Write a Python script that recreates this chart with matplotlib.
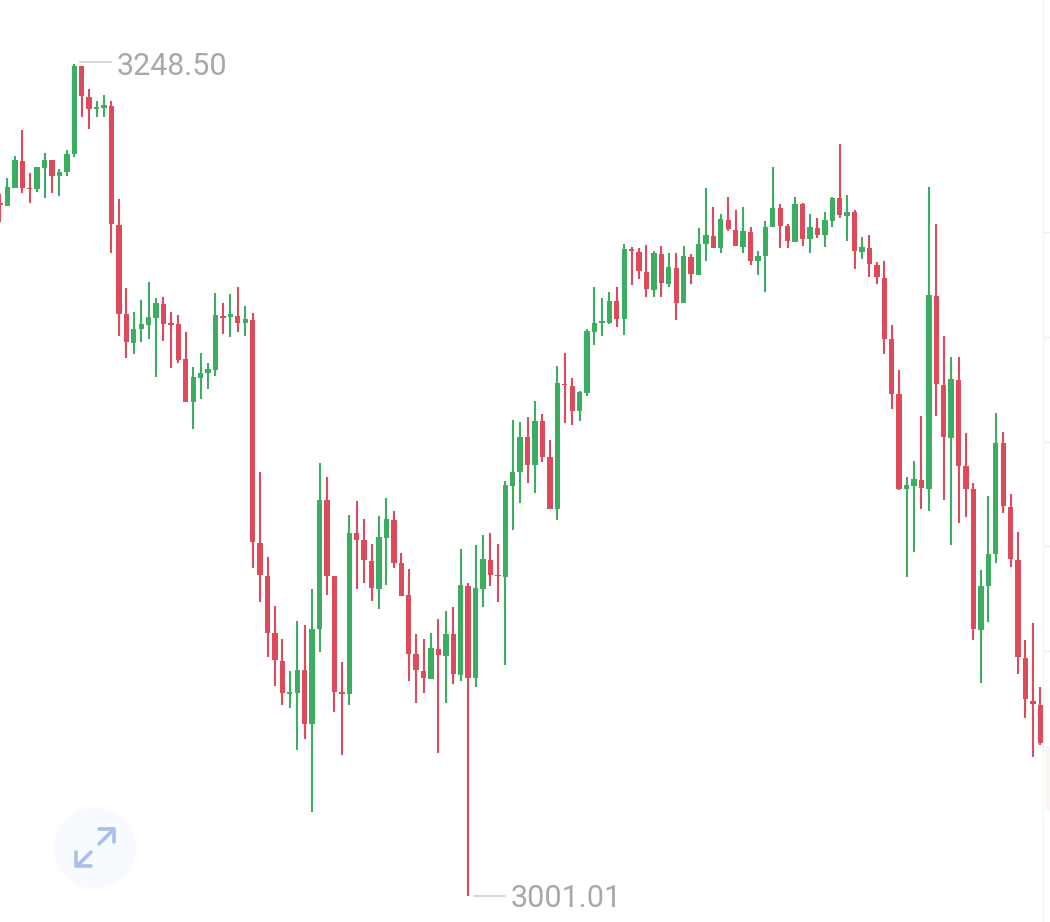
import matplotlib
matplotlib.use("Agg")
import matplotlib.pyplot as plt
from matplotlib.patches import Circle

#CANDLE DATA (left to right)
opens = [
    3207.1, 3206.2, 3211.6, 3219.6, 3211.6, 3211.3, 3217.5, 3219.9, 3215.1, 3216.3,
    3221.7, 3247.9, 3238.6, 3235.1, 3235.4, 3236.0, 3200.6, 3174.1, 3165.5, 3169.6,
    3170.8, 3172.9, 3177.1, 3171.4, 3171.1, 3160.7, 3147.9, 3155.0, 3156.5, 3157.4,
    3173.5, 3173.2, 3173.5, 3171.4, 3172.3, 3106.0, 3096.1, 3079.2, 3070.9, 3061.0,
    3061.3, 3068.2, 3052.1, 3080.4, 3118.7, 3096.1, 3061.6, 3061.0, 3108.9, 3106.8,
    3100.6, 3092.3, 3107.4, 3112.8, 3100.0, 3090.5, 3072.9, 3067.9, 3065.5, 3074.4,
    3072.3, 3078.9, 3066.7, 3093.2, 3065.8, 3092.3, 3100.9, 3096.4, 3095.8, 3122.9,
    3127.1, 3137.5, 3129.2, 3142.3, 3131.5, 3116.1, 3153.3, 3152.7, 3145.2, 3150.6,
    3168.7, 3171.4, 3171.4, 3178.0, 3172.6, 3193.4, 3192.5, 3186.6, 3181.2, 3191.9,
    3183.0, 3187.8, 3177.4, 3191.0, 3185.7, 3194.9, 3197.3, 3193.7, 3202.0, 3199.1,
    3194.0, 3198.5, 3189.9, 3191.3, 3200.0, 3205.6, 3200.3, 3195.5, 3206.8, 3196.4,
    3199.7, 3197.6, 3201.8, 3208.6, 3203.2, 3204.4, 3192.5, 3193.7, 3188.7, 3184.8,
    3166.6, 3150.3, 3122.0, 3122.9, 3124.7, 3122.0, 3179.4, 3153.0, 3137.2, 3154.4,
    3128.9, 3122.0, 3080.1, 3093.2, 3102.7, 3135.7, 3116.7, 3100.9, 3071.7, 3059.0,
    3057.8,
]
highs = [
    3209.8, 3214.6, 3221.1, 3228.8, 3216.0, 3217.8, 3222.0, 3219.9, 3217.2, 3222.9,
    3248.5, 3247.9, 3241.0, 3237.5, 3239.2, 3237.5, 3208.3, 3181.8, 3174.7, 3178.2,
    3183.6, 3178.8, 3179.1, 3174.7, 3173.8, 3168.7, 3158.3, 3162.5, 3159.5, 3180.3,
    3177.4, 3180.0, 3182.1, 3176.5, 3174.4, 3127.1, 3101.8, 3087.2, 3077.4, 3067.9,
    3082.8, 3081.6, 3092.3, 3129.8, 3125.6, 3096.1, 3070.6, 3114.3, 3118.5, 3113.1,
    3105.7, 3114.0, 3119.3, 3115.5, 3103.0, 3098.2, 3078.9, 3077.4, 3079.2, 3083.3,
    3085.7, 3086.9, 3104.2, 3094.1, 3105.4, 3108.3, 3108.9, 3105.7, 3124.4, 3142.5,
    3142.0, 3143.4, 3148.2, 3144.3, 3136.6, 3158.6, 3162.5, 3155.0, 3151.2, 3169.6,
    3182.1, 3178.8, 3180.6, 3182.1, 3194.9, 3194.0, 3193.7, 3194.6, 3192.8, 3194.3,
    3192.2, 3192.2, 3194.3, 3191.9, 3199.7, 3211.6, 3205.9, 3203.8, 3208.9, 3205.0,
    3205.9, 3200.0, 3192.8, 3201.8, 3217.8, 3206.8, 3200.9, 3208.9, 3207.1, 3203.8,
    3202.6, 3204.4, 3208.9, 3224.7, 3209.5, 3205.0, 3197.0, 3197.6, 3189.6, 3189.9,
    3170.8, 3157.4, 3125.6, 3130.4, 3143.7, 3211.9, 3200.9, 3167.5, 3161.3, 3161.3,
    3138.7, 3123.8, 3097.9, 3119.9, 3144.6, 3139.0, 3120.5, 3109.2, 3077.1, 3082.2,
    3063.1,
]
lows = [
    3201.5, 3206.2, 3211.6, 3210.1, 3207.1, 3210.4, 3208.6, 3210.1, 3209.2, 3215.1,
    3220.8, 3232.7, 3229.1, 3232.7, 3232.7, 3192.2, 3167.5, 3161.0, 3162.2, 3165.8,
    3166.6, 3155.3, 3166.1, 3158.0, 3159.5, 3147.9, 3139.9, 3148.8, 3151.8, 3155.6,
    3168.1, 3167.2, 3168.7, 3167.5, 3098.5, 3088.4, 3072.0, 3063.4, 3057.8, 3056.9,
    3044.4, 3047.6, 3025.9, 3073.5, 3090.5, 3055.7, 3042.9, 3057.8, 3092.3, 3094.1,
    3088.7, 3086.3, 3093.5, 3098.5, 3090.2, 3064.9, 3058.4, 3061.3, 3065.5, 3043.5,
    3058.4, 3064.0, 3064.9, 3001.01, 3063.1, 3086.9, 3093.2, 3088.4, 3069.7, 3109.8,
    3117.9, 3123.8, 3120.8, 3130.1, 3116.1, 3112.8, 3141.7, 3141.1, 3142.3, 3149.7,
    3164.9, 3167.5, 3171.1, 3170.2, 3167.8, 3182.7, 3184.5, 3179.1, 3179.1, 3179.1,
    3182.1, 3172.3, 3177.4, 3183.0, 3185.7, 3189.9, 3193.7, 3192.2, 3198.8, 3194.3,
    3192.2, 3188.7, 3185.7, 3180.6, 3200.0, 3193.7, 3193.7, 3195.5, 3194.3, 3192.2,
    3196.7, 3194.0, 3200.0, 3202.6, 3195.8, 3187.5, 3190.4, 3185.1, 3183.0, 3162.2,
    3145.8, 3121.7, 3095.8, 3103.3, 3116.1, 3115.5, 3143.7, 3118.7, 3105.4, 3111.9,
    3113.7, 3077.1, 3064.3, 3082.5, 3100.0, 3114.9, 3098.8, 3067.0, 3053.9, 3042.3,
    3045.9,
]
closes = [
    3206.5, 3211.9, 3219.9, 3211.6, 3211.3, 3217.8, 3219.9, 3215.1, 3216.3, 3221.7,
    3247.9, 3238.9, 3235.1, 3235.7, 3236.3, 3200.9, 3174.1, 3165.8, 3169.6, 3171.1,
    3173.2, 3177.4, 3171.1, 3170.8, 3160.4, 3147.9, 3155.3, 3156.5, 3157.7, 3173.8,
    3172.9, 3174.1, 3171.4, 3172.6, 3106.3, 3096.4, 3079.2, 3071.1, 3061.3, 3061.6,
    3068.2, 3052.1, 3080.4, 3118.7, 3096.1, 3061.6, 3061.0, 3108.9, 3106.8, 3100.9,
    3092.6, 3107.7, 3113.1, 3100.0, 3090.2, 3072.9, 3068.2, 3065.8, 3074.7, 3072.6,
    3078.9, 3067.0, 3093.5, 3065.8, 3092.6, 3101.2, 3096.4, 3096.1, 3123.2, 3127.1,
    3137.5, 3129.2, 3142.3, 3131.5, 3116.1, 3153.6, 3153.0, 3145.2, 3150.9, 3169.0,
    3171.4, 3172.0, 3178.0, 3172.6, 3193.4, 3192.8, 3186.9, 3181.5, 3192.2, 3183.3,
    3188.1, 3177.4, 3191.3, 3186.0, 3194.9, 3197.6, 3193.7, 3202.3, 3199.4, 3194.3,
    3198.8, 3189.9, 3191.3, 3200.0, 3205.6, 3200.3, 3195.8, 3206.8, 3196.4, 3200.0,
    3197.6, 3202.0, 3208.6, 3203.5, 3204.4, 3192.8, 3194.0, 3189.0, 3185.1, 3166.6,
    3150.3, 3122.0, 3123.2, 3125.0, 3122.3, 3179.7, 3153.3, 3137.5, 3154.7, 3128.9,
    3122.0, 3080.4, 3093.2, 3102.7, 3135.7, 3117.0, 3101.2, 3072.0, 3059.5, 3058.1,
    3046.5,
]
price_ticks = [3198.6, 3167.4, 3136.2, 3105.0, 3073.8]

red = "#dc4a5c"
green = "#3bae62"
grey = "#a8a8a8"

days = list(range(len(opens)))
colors = [green if c >= o else red for o, c in zip(opens, closes)]
bottoms = [min(o, c) for o, c in zip(opens, closes)]
sizes = [abs(o - c) for o, c in zip(opens, closes)]

fig = plt.figure(figsize=(10.5, 9.22), dpi=100)
ax = fig.add_axes([0, 0, 1, 1])
ax.set_xlim(0, 141.3)
ax.set_ylim(2993.27, 3267.54)
ax.axis("off")

ax.vlines(days, lows, highs, colors=colors, linewidth=1.5, zorder=2)
ax.bar(days, sizes, bottom=bottoms, width=0.72, color=colors, linewidth=0, zorder=3)

#right price gutter
ax.axvline(140.4, color="#f5f5f5", linewidth=1, zorder=1)
ax.hlines(price_ticks, 140.4, 141.3, colors="#eeeeee", linewidth=1, zorder=1)
ax.axvspan(140.7, 141.3, ymin=0.12, ymax=0.19, color="#fdf3f3", linewidth=0, zorder=0)

#max / min labels
hi = highs.index(max(highs))
lo = lows.index(min(lows))
for i, y, dy, off in [(hi, highs[hi], 2, -2), (lo, lows[lo], 0, -3)]:
    ax.plot([i + 0.75, i + 4.9], [y + dy * 0.3, y + dy * 0.3], color="#cfcfcf", linewidth=1.2, zorder=2)
    ax.annotate("%.2f" % y, xy=(i, y), xytext=(42.5, off), textcoords="offset pixels",
                ha="left", va="center", fontsize=22, family="Roboto", color=grey)

#expand button, drawn in pixels
btn = fig.add_axes([0, 0, 1, 1])
btn.set_xlim(0, 1050)
btn.set_ylim(922, 0)
btn.axis("off")
btn.patch.set_alpha(0)
btn.add_patch(Circle((95, 848), 41, color="#f7fafe", linewidth=0))
arrow = "#a9c0e8"
btn.plot([99, 113], [844, 830], color=arrow, linewidth=2.6, solid_capstyle="round")
btn.plot([99, 114, 114], [829, 829, 842], color=arrow, linewidth=2.6, solid_capstyle="round", solid_joinstyle="round")
btn.plot([77, 91], [866, 852], color=arrow, linewidth=2.6, solid_capstyle="round")
btn.plot([76, 76, 91], [852, 866, 866], color=arrow, linewidth=2.6, solid_capstyle="round", solid_joinstyle="round")

fig.savefig("out.png", dpi=100, facecolor="white")
